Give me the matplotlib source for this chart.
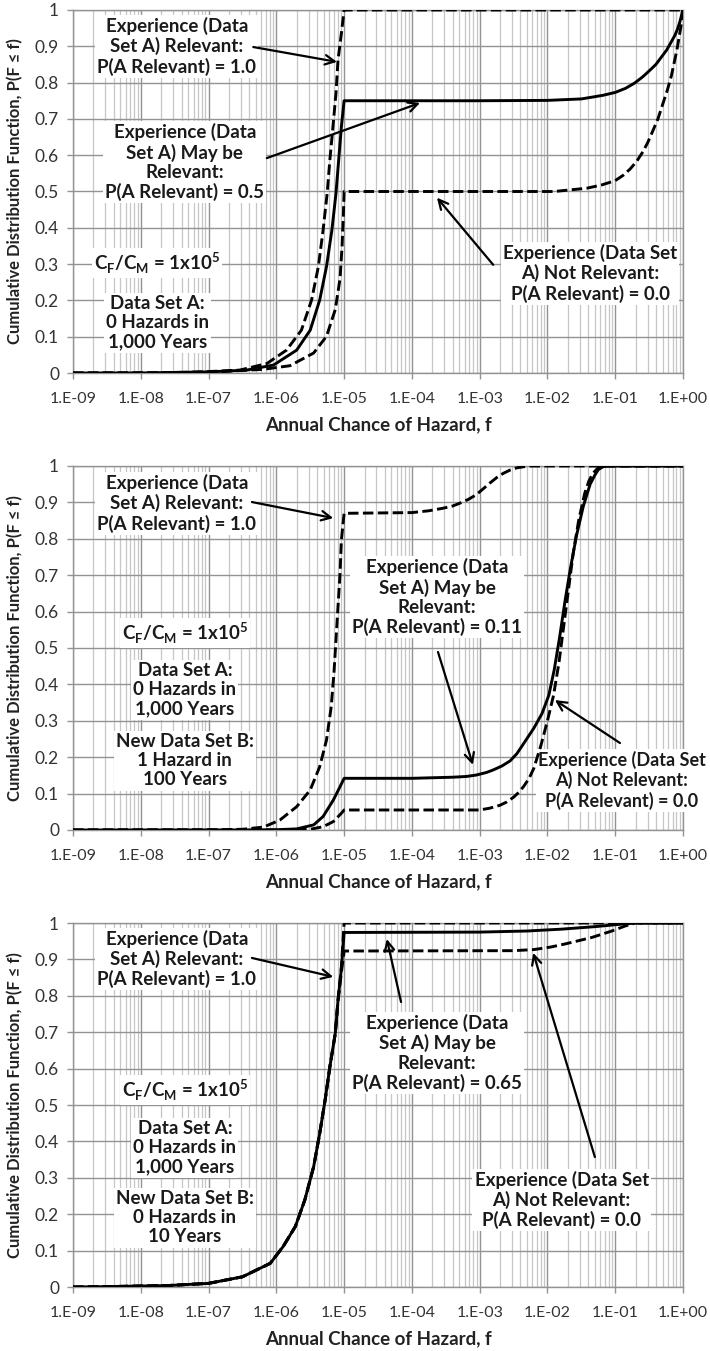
import matplotlib
matplotlib.use("Agg")
import matplotlib.pyplot as plt
import matplotlib.ticker as mticker
import numpy as np

plt.rcParams['font.family'] = ['Lato', 'DejaVu Sans']
plt.rcParams['mathtext.fontset'] = 'custom'
plt.rcParams['mathtext.rm'] = 'Lato:bold'
plt.rcParams['mathtext.bf'] = 'Lato:bold'

# --- data: log10(f) and CDF values ---
# panel 1: data set A only
p1_rel_logf = [-9, -8, -7.3, -7, -6.54, -6.14, -5.85, -5.63, -5.48, -5.38, -5.31, -5.25,
               -5.21, -5.16, -5.12, -5.09, -5.04, -5.0, 0]
p1_rel_cdf = [0, 0.0003, 0.002, 0.004, 0.008, 0.026, 0.063, 0.118, 0.201, 0.293, 0.394, 0.495,
              0.587, 0.688, 0.771, 0.862, 0.936, 1.0, 1.0]
p1_may_logf = [-9, -8, -7, -6.44, -6.04, -5.70, -5.50, -5.36, -5.26, -5.18, -5.12, -5.08, -5.04,
               -5.0, -3, -2, -1.5, -1.18, -1.0, -0.85, -0.72, -0.6, -0.5, -0.4, -0.32, -0.24,
               -0.18, -0.12, -0.08, -0.05, 0]
p1_may_cdf = [0, 0.0002, 0.003, 0.008, 0.022, 0.063, 0.118, 0.201, 0.293, 0.394, 0.495, 0.587, 0.679,
              0.75, 0.75, 0.751, 0.755, 0.765, 0.773, 0.784, 0.798, 0.815, 0.832, 0.85, 0.87, 0.89,
              0.91, 0.93, 0.948, 0.965, 1.0]
p1_nr_logf = [-9, -8, -7, -6.2, -5.8, -5.45, -5.26, -5.13, -5.06, -5.03, -5.01, -5.0, -3, -1.9,
              -1.42, -1.2, -1.0, -0.88, -0.78, -0.68, -0.59, -0.52, -0.45, -0.37, -0.3, -0.23,
              -0.17, -0.13, -0.09, -0.03, 0]
p1_nr_cdf = [0, 0.0001, 0.002, 0.01, 0.02, 0.055, 0.101, 0.175, 0.26, 0.35, 0.44, 0.5, 0.5, 0.5,
             0.509, 0.518, 0.53, 0.545, 0.562, 0.584, 0.61, 0.635, 0.665, 0.70, 0.74, 0.78,
             0.82, 0.855, 0.89, 0.955, 1.0]

# panel 2: A plus new data set B (1 hazard in 100 years)
p2_rel_logf = [-9, -7, -6.5, -6.19, -5.95, -5.70, -5.50, -5.36, -5.26, -5.19, -5.15, -5.12, -5.09,
               -5.06, -5.04, -5.0, -4.0, -3.75, -3.54, -3.4, -3.29, -3.17, -3.05, -2.95, -2.85,
               -2.75, -2.65, -2.55, -2.45, -2.35, -2.26, 0]
p2_rel_cdf = [0, 0.0003, 0.002, 0.008, 0.027, 0.064, 0.110, 0.174, 0.247, 0.339, 0.431, 0.522, 0.614,
              0.705, 0.797, 0.87, 0.872, 0.877, 0.884, 0.89, 0.898, 0.908, 0.921, 0.937, 0.953,
              0.968, 0.98, 0.989, 0.995, 0.998, 1.0, 1.0]
p2_may_logf = [-9, -6.5, -6.0, -5.70, -5.45, -5.31, -5.16, -5.06, -5.0, -4.0, -3.4, -3.2, -3.05,
               -2.9, -2.8, -2.67, -2.55, -2.45, -2.36, -2.2, -2.08, -1.98, -1.90, -1.82, -1.74,
               -1.66, -1.57, -1.47, -1.37, -1.3, -1.25, -1.18, -1.12, 0]
p2_may_cdf = [0, 0.0002, 0.0008, 0.003, 0.014, 0.037, 0.082, 0.119, 0.142, 0.142, 0.145, 0.147, 0.151,
              0.158, 0.165, 0.176, 0.19, 0.21, 0.235, 0.28, 0.32, 0.37, 0.44, 0.53, 0.63,
              0.72, 0.81, 0.89, 0.95, 0.975, 0.99, 0.998, 1.0, 1.0]
p2_nr_logf = [-9, -6, -5.5, -5.31, -5.16, -5.04, -5.0, -3.0, -2.85, -2.7, -2.6, -2.5, -2.42, -2.35,
              -2.27, -2.2, -2.1, -2.0, -1.91, -1.83, -1.76, -1.69, -1.62, -1.54, -1.45, -1.39,
              -1.33, -1.26, -1.18, 0]
p2_nr_cdf = [0, 0.0002, 0.002, 0.009, 0.023, 0.046, 0.055, 0.055, 0.06, 0.068, 0.077, 0.09, 0.104,
             0.12, 0.142, 0.17, 0.23, 0.30, 0.37, 0.46, 0.56, 0.66, 0.76, 0.85, 0.925, 0.958,
             0.98, 0.993, 1.0, 1.0]

# panel 3: A plus new data set B (0 hazards in 10 years)
p3_rel_logf = [-9, -8.5, -7.6, -7.0, -6.5, -6.09, -5.90, -5.72, -5.58, -5.45, -5.36, -5.28, -5.21,
               -5.13, -5.09, -5.04, -5.0, 0]
p3_rel_cdf = [0, 0.001, 0.004, 0.01, 0.028, 0.065, 0.111, 0.166, 0.239, 0.330, 0.422, 0.514, 0.605,
              0.697, 0.788, 0.880, 1.0, 1.0]
p3_may_logf = [-9, -8.5, -7.6, -7.0, -6.5, -6.09, -5.90, -5.72, -5.58, -5.45, -5.36, -5.28, -5.21,
               -5.13, -5.09, -5.04, -5.0, -3.0, -2.3, -1.8, -1.3, -0.9, -0.7, 0]
p3_may_cdf = [0, 0.001, 0.004, 0.01, 0.028, 0.065, 0.111, 0.166, 0.239, 0.330, 0.422, 0.514, 0.605,
              0.697, 0.788, 0.875, 0.974, 0.975, 0.978, 0.983, 0.99, 0.997, 1.0, 1.0]
p3_nr_logf = [-9, -8.5, -7.6, -7.0, -6.5, -6.09, -5.90, -5.72, -5.58, -5.45, -5.36, -5.28, -5.21,
              -5.13, -5.09, -5.04, -5.0, -2.5, -2.2, -1.95, -1.75, -1.55, -1.35, -1.2, -1.05,
              -0.95, -0.85, -0.7, 0]
p3_nr_cdf = [0, 0.001, 0.004, 0.01, 0.028, 0.065, 0.111, 0.166, 0.239, 0.330, 0.422, 0.514, 0.605,
             0.697, 0.785, 0.865, 0.923, 0.924, 0.927, 0.934, 0.942, 0.951, 0.96, 0.969, 0.978,
             0.985, 0.992, 1.0, 1.0]

x_ticks_exp = list(range(-9, 1))

txt_rel = "Experience (Data\nSet A) Relevant:\nP(A Relevant) = 1.0"
txt_may1 = "Experience (Data\nSet A) May be\nRelevant:\nP(A Relevant) = 0.5"
txt_may2 = "Experience (Data\nSet A) May be\nRelevant:\nP(A Relevant) = 0.11"
txt_may3 = "Experience (Data\nSet A) May be\nRelevant:\nP(A Relevant) = 0.65"
txt_nr = "Experience (Data Set\nA) Not Relevant:\nP(A Relevant) = 0.0"
txt_ratio = r"C$_\mathbf{F}$/C$_\mathbf{M}$ = 1x10$^\mathbf{5}$"
txt_a = "Data Set A:\n0 Hazards in\n1,000 Years"
txt_b2 = "New Data Set B:\n1 Hazard in\n100 Years"
txt_b3 = "New Data Set B:\n0 Hazards in\n10 Years"

W, H = 710, 1351
fig = plt.figure(figsize=(W / 100, H / 100), dpi=100)

GRID = '#939393'
MINOR = '#c6c6c6'
TXT = 13.5


def make_axes(top_px, bottom_px):
    ax = fig.add_axes([73 / W, 1 - bottom_px / H, 610 / W, (bottom_px - top_px) / H])
    ax.set_xscale('log')
    ax.set_xlim(1e-9, 1)
    ax.set_ylim(0, 1)
    ax.set_axisbelow(True)
    ax.xaxis.set_major_locator(mticker.FixedLocator([10.0 ** e for e in x_ticks_exp]))
    ax.xaxis.set_major_formatter(mticker.FuncFormatter(lambda v, p: "1.E%+03d" % round(np.log10(v))))
    ax.xaxis.set_minor_locator(mticker.LogLocator(base=10, subs=np.arange(2, 10), numticks=20))
    ax.xaxis.set_minor_formatter(mticker.NullFormatter())
    ax.yaxis.set_major_locator(mticker.MultipleLocator(0.1))
    ax.yaxis.set_major_formatter(mticker.FuncFormatter(lambda v, p: "%g" % round(v, 1)))
    ax.grid(which='major', color=GRID, lw=1.0)
    ax.grid(which='minor', axis='x', color=MINOR, lw=0.9)
    for s in ax.spines.values():
        s.set_color(GRID)
        s.set_linewidth(1.0)
    ax.tick_params(which='major', direction='out', length=4, width=1, color=GRID,
                   labelcolor='#333333')
    ax.tick_params(axis='x', which='major', labelsize=11.5, pad=10)
    ax.tick_params(axis='y', which='major', labelsize=12.5, pad=6)
    ax.tick_params(which='minor', length=0)
    ax.set_xlabel("Annual Chance of Hazard, f", fontsize=13.5, fontweight='bold', color='#222222')
    ax.set_ylabel("Cumulative Distribution Function, P(F \u2264 f)", fontsize=12,
                  fontweight='bold', color='#222222')
    h = bottom_px - top_px
    ax.xaxis.set_label_coords(0.5, -43 / h)
    ax.yaxis.set_label_coords(-50 / 610, 0.5)
    return ax


def curves(ax, rel, may, nr):
    ax.plot(10.0 ** np.array(rel[0]), rel[1], color='black', lw=2.1, ls=(0, (3.6, 1.5)), zorder=4)
    ax.plot(10.0 ** np.array(nr[0]), nr[1], color='black', lw=2.1, ls=(0, (3.6, 1.5)), zorder=4)
    ax.plot(10.0 ** np.array(may[0]), may[1], color='black', lw=2.1, zorder=4)


def note(ax, text, e, p, size=TXT):
    ax.text(10.0 ** e, p, text, ha='center', va='center', fontsize=size, fontweight='bold',
            color='#1a1a1a', linespacing=1.15, zorder=3,
            bbox=dict(facecolor='white', edgecolor='none', pad=1.5))


def arrow(ax, start, tip):
    ax.annotate('', xy=(10.0 ** tip[0], tip[1]), xytext=(10.0 ** start[0], start[1]),
                arrowprops=dict(arrowstyle='->', color='black', lw=1.6, mutation_scale=17,
                                shrinkA=0, shrinkB=0), zorder=5)


# panel 1
ax1 = make_axes(10, 373)
curves(ax1, (p1_rel_logf, p1_rel_cdf), (p1_may_logf, p1_may_cdf), (p1_nr_logf, p1_nr_cdf))
note(ax1, txt_rel, -7.47, 0.90)
arrow(ax1, (-6.34, 0.898), (-5.105, 0.857))
note(ax1, txt_may1, -7.35, 0.581)
arrow(ax1, (-6.14, 0.592), (-3.88, 0.744))
note(ax1, txt_ratio, -7.76, 0.303)
note(ax1, txt_a, -7.75, 0.138)
note(ax1, txt_nr, -1.37, 0.275)
arrow(ax1, (-2.80, 0.298), (-3.63, 0.483))

# panel 2
ax2 = make_axes(466, 830)
curves(ax2, (p2_rel_logf, p2_rel_cdf), (p2_may_logf, p2_may_cdf), (p2_nr_logf, p2_nr_cdf))
note(ax2, txt_rel, -7.47, 0.898)
arrow(ax2, (-6.36, 0.901), (-5.16, 0.857))
note(ax2, txt_may2, -3.63, 0.640)
arrow(ax2, (-3.615, 0.489), (-3.10, 0.179))
note(ax2, txt_ratio, -7.35, 0.541)
note(ax2, txt_a, -7.35, 0.385)
note(ax2, txt_b2, -7.35, 0.190)
note(ax2, txt_nr, -0.90, 0.137, size=13)
arrow(ax2, (-0.93, 0.239), (-1.89, 0.357))

# panel 3
ax3 = make_axes(923, 1287)
curves(ax3, (p3_rel_logf, p3_rel_cdf), (p3_may_logf, p3_may_cdf), (p3_nr_logf, p3_nr_cdf))
note(ax3, txt_rel, -7.47, 0.901)
arrow(ax3, (-6.36, 0.904), (-5.16, 0.852))
note(ax3, txt_may3, -3.63, 0.643)
arrow(ax3, (-4.16, 0.783), (-4.37, 0.956))
note(ax3, txt_ratio, -7.35, 0.541)
note(ax3, txt_a, -7.35, 0.382)
note(ax3, txt_b3, -7.35, 0.190)
note(ax3, txt_nr, -1.79, 0.239)
arrow(ax3, (-1.30, 0.357), (-2.21, 0.918))

fig.savefig("out.png", dpi=100)
